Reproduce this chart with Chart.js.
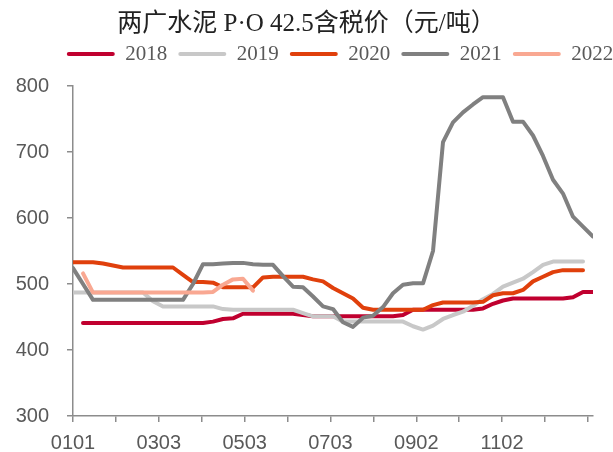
<!DOCTYPE html>
<html>
<head>
<meta charset="utf-8">
<script src="https://cdn.jsdelivr.net/npm/chart.js@4.4.1/dist/chart.umd.min.js"></script>
<style>
  html, body { margin: 0; padding: 0; background: #ffffff; }
  #c { display: block; }
</style>
</head>
<body>
<canvas id="c" width="613" height="452"></canvas>
<script>
// ---- data ----
const titleText = '两广水泥 P·O 42.5含税价（元/吨）';
const seriesNames = ['2018', '2019', '2020', '2021', '2022'];
const seriesColors = ['#C0002F', '#C8C8C8', '#E0400C', '#808080', '#F9A892'];

// week slots along the year (category positions)
const weekIndex = Array.from({ length: 53 }, (_, i) => i);

// x-axis tick labels (every other tick mark carries a label)
const tickLabels = ['0101', '0303', '0503', '0703', '0902', '1102'];

const s2018 = [
  null,441,441,441,441,441,441,441,441,441,
  441,441,441,441,443,447,448,455,455,455,
  455,455,455,453,451,451,451,451,451,451,
  451,451,451,453,461,461,461,461,461,461,
  461,463,470,475,478,478,478,478,478,478,
  480,488,488
];
const s2019 = [
  487,487,487,487,487,487,487,487,474,466,
  466,466,466,466,466,462,461,461,461,461,
  461,461,461,456,451,451,451,443,443,443,
  443,443,443,443,436,431,437,447,453,458,
  467,477,485,496,502,508,518,529,534,534,
  534,534,null
];
const s2020 = [
  533,533,533,531,528,525,525,525,525,525,
  525,514,503,503,502,495,495,495,495,510,
  511,511,511,511,507,504,494,486,478,464,
  461,461,461,461,461,461,468,472,472,472,
  472,473,483,486,486,491,504,511,518,521,
  521,521,null
];
const s2021 = [
  524,500,476,476,476,476,476,476,476,476,
  476,476,500,530,530,531,532,532,530,529,
  529,512,496,495,481,466,462,442,435,449,
  452,465,486,499,501,501,550,715,745,760,
  772,783,783,783,746,746,725,694,658,637,
  602,587,572
];
const s2022 = [
  null,516,487,487,487,487,487,487,487,487,
  487,487,487,487,488,499,507,508,490
];
const seriesValues = [s2018, s2019, s2020, s2021, s2022];

// ---- layout constants ----
const X_MAX = 52;                 // last week slot
const TICK_STEP = 52 * 30.5 / 369.6; // one tick every ~30.5 days
const TICK_COUNT = 13;
const LEGEND_PAD = 11;
const LEGEND_LEFT = 55.8;
const LEGEND_TOP = 32.5;

const placeBlocks = {
  id: 'placeBlocks',
  afterLayout(chart) {
    const t = chart.titleBlock;
    if (t) { t.left = 0; t.right = chart.width; t.width = chart.width; }
    const l = chart.legend;
    if (l) {
      const dx = LEGEND_LEFT - l.left;
      const dy = LEGEND_TOP - l.top;
      l.left += dx; l.right += dx;
      l.top += dy; l.bottom += dy;
    }
  }
};

const datasets = seriesNames.map((name, k) => ({
  label: name,
  data: seriesValues[k],
  borderColor: seriesColors[k],
  backgroundColor: seriesColors[k],
  borderWidth: 4,
  pointRadius: 0,
  pointHoverRadius: 0,
  tension: 0,
  fill: false,
  spanGaps: false,
  borderCapStyle: 'round',
  borderJoinStyle: 'round',
  order: seriesNames.length - k
}));

const axisColor = '#8c8c8c';
const tickFont = { family: '"Liberation Sans", Arial, sans-serif', size: 20 };

new Chart(document.getElementById('c'), {
  type: 'line',
  data: { labels: weekIndex, datasets },
  plugins: [placeBlocks],
  options: {
    responsive: false,
    maintainAspectRatio: false,
    animation: false,
    devicePixelRatio: 1,
    layout: { padding: { left: 0, right: 20, top: 0, bottom: 0 } },
    plugins: {
      title: {
        display: true,
        text: titleText,
        color: '#222222',
        font: { family: '"Liberation Serif", "Noto Sans CJK SC", serif', size: 25, weight: 'normal' },
        padding: { top: 9, bottom: 5 }
      },
      legend: {
        display: true,
        position: 'top',
        align: 'start',
        labels: {
          color: '#595959',
          font: { family: '"Liberation Serif", "Times New Roman", serif', size: 21 },
          boxWidth: 48,
          boxHeight: 4,
          padding: LEGEND_PAD,
          useBorderRadius: true,
          borderRadius: 2,
          generateLabels(chart) {
            return Chart.defaults.plugins.legend.labels.generateLabels(chart)
              .sort((a, b) => a.datasetIndex - b.datasetIndex)
              .map(it => Object.assign({}, it, {
                fillStyle: seriesColors[it.datasetIndex],
                strokeStyle: seriesColors[it.datasetIndex],
                lineWidth: 0,
                borderRadius: 2
              }));
          }
        }
      },
      tooltip: { enabled: false }
    },
    scales: {
      x: {
        type: 'linear',
        min: 0,
        max: X_MAX,
        border: { display: true, color: axisColor, width: 1.5 },
        grid: { display: true, drawOnChartArea: false, drawTicks: true, tickLength: 6, color: axisColor, lineWidth: 1.5 },
        afterBuildTicks(scale) {
          const t = [];
          for (let k = 0; k < TICK_COUNT; k++) t.push({ value: k * TICK_STEP });
          scale.ticks = t;
        },
        afterFit(scale) { scale.height = 36; },
        ticks: {
          autoSkip: false,
          maxRotation: 0,
          minRotation: 0,
          padding: 9,
          color: '#595959',
          font: tickFont,
          callback(value, index) {
            return index % 2 === 0 ? (tickLabels[index / 2] || '') : '';
          }
        }
      },
      y: {
        type: 'linear',
        min: 300,
        max: 800,
        border: { display: true, color: axisColor, width: 1.5 },
        grid: { display: true, drawOnChartArea: false, drawTicks: true, tickLength: 6, color: axisColor, lineWidth: 1.5 },
        afterFit(scale) { scale.width = 73; },
        ticks: {
          stepSize: 100,
          padding: 18,
          color: '#595959',
          font: tickFont
        }
      }
    }
  }
});
</script>
</body>
</html>
